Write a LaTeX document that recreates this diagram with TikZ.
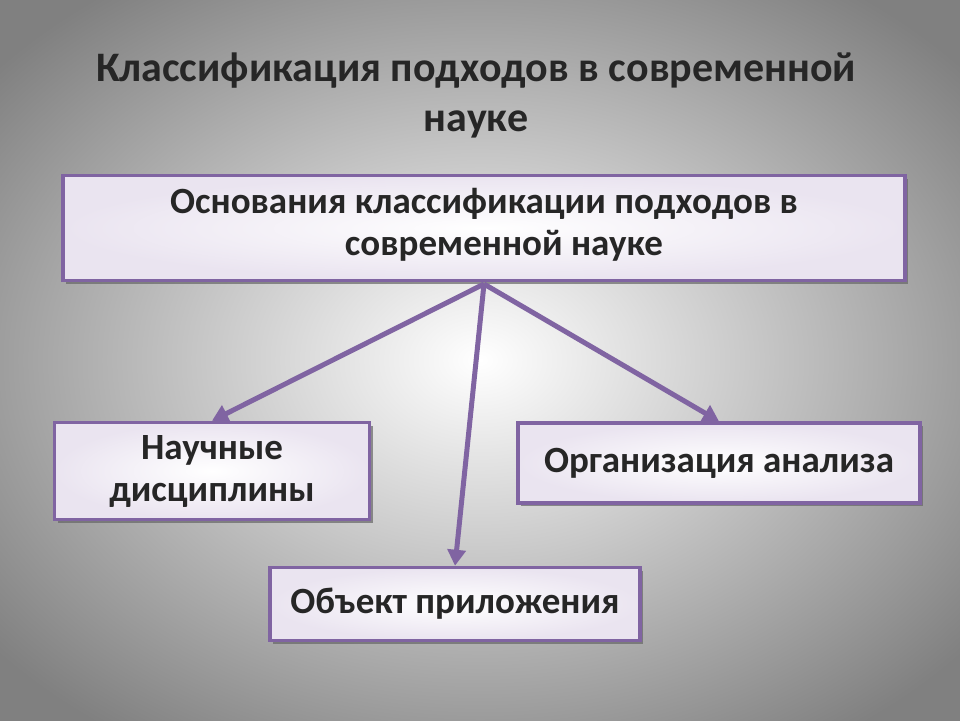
\documentclass[tikz,border=0pt]{standalone}
\usepackage{fontspec}
\setmainfont{Carlito}
\usetikzlibrary{shadows,arrows.meta}
\definecolor{pur}{HTML}{8064A2}
\definecolor{lav}{HTML}{EAE4F0}
\tikzset{
  box/.style={draw=pur,line width=3.5pt,fill=lav,inner color=white,outer color=lav,
    drop shadow={shadow xshift=3pt,shadow yshift=-3pt,fill=black!60,opacity=0.7},
    font=\fontsize{37}{42}\selectfont\bfseries,align=center,text=black!85},
  conn/.style={draw=pur,line width=5pt,-{Triangle[length=16pt,width=18pt]}}
}
\begin{document}
\begin{tikzpicture}[x=1pt,y=-1pt]
\useasboundingbox (0,0) rectangle (960,720);
\shade[inner color=white,outer color=black!50] (-150,-100) rectangle (1110,820);
\node[font=\fontsize{42}{50}\selectfont\bfseries,align=center,text=black!85] (title) at (476,95)
  {Классификация подходов в современной\\науке};
\node[box,minimum width=842,minimum height=105,text depth=12pt] (top) at (484,228)
  {Основания классификации подходов в\\\hspace*{40pt}современной науке};
\node[box,minimum width=315,minimum height=97] (left) at (212,471) {Научные\\дисциплины};
\node[box,minimum width=402,minimum height=80] (right) at (719,463) {Организация анализа};
\node[box,minimum width=370,minimum height=73] (bot) at (455,604) {Объект приложения};
\coordinate (src) at (484,284);
\draw[conn] (src) -- (left.north);
\draw[conn] (src) -- (bot.north);
\draw[conn] (src) -- (right.north);
\end{tikzpicture}
\end{document}
